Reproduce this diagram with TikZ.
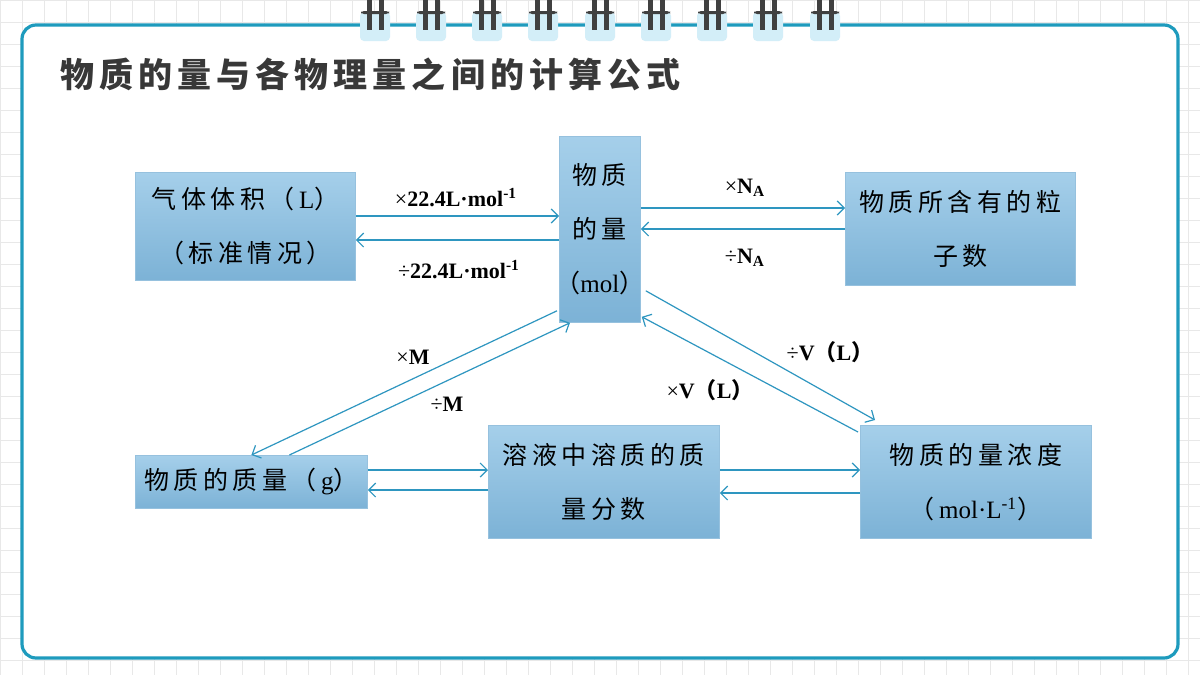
\documentclass[tikz,border=0pt]{standalone}
\usepackage{fontspec}
\setmainfont{Liberation Serif}
\newfontfamily\cjk{Noto Sans CJK SC}
\newfontfamily\cjkwide[LetterSpace=18]{Noto Sans CJK SC}
\newfontfamily\cjktitle[LetterSpace=15]{Noto Sans CJK SC}
\usetikzlibrary{calc, positioning, arrows, arrows.meta}

\definecolor{frame}{HTML}{1E9BBD}
\definecolor{line}{HTML}{2E96C0}
\definecolor{boxtop}{HTML}{A5CFEA}
\definecolor{boxbot}{HTML}{7CB2D6}
\definecolor{ring}{HTML}{D3EEF8}

\tikzset{
  box/.style={rectangle, top color=boxtop, bottom color=boxbot, draw=boxbot!80!white,
    align=center, font=\cjkwide\fontsize{12.5}{27}\selectfont, inner sep=0pt, anchor=north west},
  arr/.style={-{Straight Barb[length=3.5pt, width=7pt, line width=0.6pt]}, draw=line, line width=0.6pt},
  lab/.style={font=\bfseries\fontsize{11}{12}\selectfont}
}

\begin{document}
\begin{tikzpicture}[x=0.5pt, y=-0.5pt]
\useasboundingbox (0,0) rectangle (1200,675);
% background
\fill[white] (0,0) rectangle (1200,675);
\draw[black!9, step=11pt] (0,0) grid (1200,675);
\draw[frame, line width=1.6pt, rounded corners=7pt, fill=white] (22,25) rectangle (1178,658);
% rings
\foreach \x in {375,431,487,543,600,656,712,768,825}{
  \fill[ring, rounded corners=2pt] (\x-15,12) rectangle (\x+15,41);
  \fill[black!75, rounded corners=1.5pt] (\x-14,11) rectangle (\x+14,14);
  \draw[black!75, line width=2.5pt] (\x-6,0) -- (\x-6,30);
  \draw[black!75, line width=2.5pt] (\x+6,0) -- (\x+6,30);
}
\node[anchor=west, font=\cjktitle\bfseries\fontsize{17}{20}\selectfont, text=black!78] (title) at (53,74) {物质的量与各物理量之间的计算公式};

% boxes
\node[box, minimum width=110pt, minimum height=54pt] (gas) at (135,172) {气体体积（\textrm{L}）\\（标准情况）};
\node[box, minimum width=40.5pt, minimum height=93pt, font=\cjk\fontsize{12.5}{27}\selectfont] (mol) at (559,136) {物\,质\\的\,量\\\makebox[38pt]{（\textrm{mol}）}};
\node[box, minimum width=115pt, minimum height=56.5pt] (num) at (845,172) {物质所含有的粒\\子数};
\node[box, minimum width=116pt, minimum height=26.5pt] (mass) at (135,455) {物质的质量（\textrm{g}）};
\node[box, minimum width=115.5pt, minimum height=56.5pt] (sol) at (488,425) {溶液中溶质的质\\量分数};
\node[box, minimum width=115.5pt, minimum height=56.5pt] (conc) at (860,425) {物质的量浓度\\（\textrm{mol·L\textsuperscript{-1}}）};

% connectors
\draw[arr] (gas.east |- 0,216) -- (mol.west |- 0,216);
\draw[arr] (mol.west |- 0,240) -- (gas.east |- 0,240);
\draw[arr] (mol.east |- 0,208) -- (num.west |- 0,208);
\draw[arr] (num.west |- 0,229) -- (mol.east |- 0,229);
\draw[arr] ($(mol.south west)+(-2,-12)$) -- (mass.north);
\draw[arr] ($(mass.north)+(38,0)$) -- ($(mol.south west)+(11,0)$);
\draw[arr] ($(mol.south east)+(5,-32)$) -- ($(conc.north west)+(15,-5)$);
\draw[arr] ($(conc.north west)+(-2,7)$) -- ($(mol.south east)+(1,-6)$);
\draw[arr] (mass.east |- 0,470) -- (sol.west |- 0,470);
\draw[arr] (sol.west |- 0,490) -- (mass.east |- 0,490);
\draw[arr] (sol.east |- 0,470) -- (conc.west |- 0,470);
\draw[arr] (conc.west |- 0,493) -- (sol.east |- 0,493);

% labels
\node[lab] (l1) at (456,198) {{\mdseries×}22.4L·mol\textsuperscript{-1}};
\node[lab] (l2) at (459,270) {{\mdseries÷}22.4L·mol\textsuperscript{-1}};
\node[lab] (l3) at (745,188) {{\mdseries×}N\textsubscript{A}};
\node[lab] (l4) at (745,258) {{\mdseries÷}N\textsubscript{A}};
\node[lab] (l5) at (413,357) {{\mdseries×}M};
\node[lab] (l6) at (447,404) {{\mdseries÷}M};
\node[lab] (l7) at (830,352) {{\mdseries÷}V{\cjk（}L{\cjk）}};
\node[lab] (l8) at (710,390) {{\mdseries×}V{\cjk（}L{\cjk）}};
\end{tikzpicture}
\end{document}
